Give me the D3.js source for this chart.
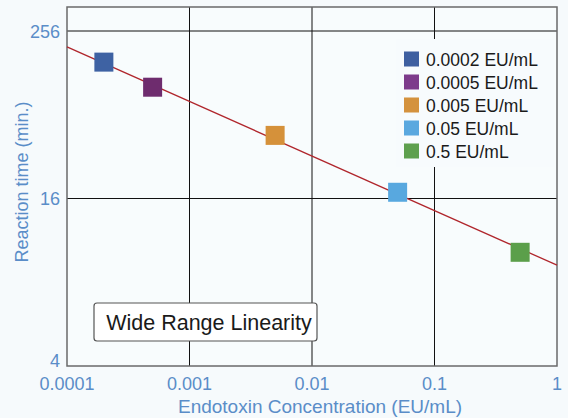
<!DOCTYPE html>
<html>
<head>
<meta charset="utf-8">
<script src="https://cdn.jsdelivr.net/npm/d3@7"></script>
<style>
  body { margin: 0; background: #f6fafc; }
  svg { display: block; font-family: "Liberation Sans", Arial, sans-serif; }
</style>
</head>
<body>
<svg id="chart" width="568" height="418"></svg>
<script>
// data
var concentrations = [0.0002, 0.0005, 0.005, 0.05, 0.5];
var reactionTimes = [131, 81, 36.6, 17.2, 9.2];
var seriesLabels = ['0.0002 EU/mL', '0.0005 EU/mL', '0.005 EU/mL', '0.05 EU/mL', '0.5 EU/mL'];
var pointColors = ['#3e62a3', '#6e2c6e', '#d5913a', '#58a8df', '#5b9f4a'];
var legendColors = ['#3e5fa0', '#7d3b8b', '#d4923e', '#5aa8df', '#5ea04e'];
var fitConc = [0.0001, 1];
var fitTime = [180, 8.2];
var xTicks = [0.0001, 0.001, 0.01, 0.1, 1];
var yTicks = [4, 16, 256];

var svg = d3.select('#chart');
var pLeft = 67, pRight = 557, pTop = 7, pBottom = 366;
var labelColor = '#5a8dc8';

var x = d3.scaleLog().domain([0.0001, 1]).range([pLeft, pRight]);
// the y axis is spaced by log of log2 (4, 16, 256 sit evenly)
var yInner = d3.scaleLog().base(2).domain([2, 8]).range([pBottom, 31]);
var yMax = yInner.invert(pTop);
yInner.domain([2, yMax]).range([pBottom, pTop]);
var y = function(v){ return yInner(Math.log2(v)); };

// plot background
svg.append('rect').attr('x', pLeft).attr('y', pTop).attr('width', pRight-pLeft).attr('height', pBottom-pTop)
  .attr('fill', '#f8fcfd');

// grid
var grid = svg.append('g');
grid.selectAll('.vg').data(xTicks.slice(1, -1)).enter().append('line')
  .attr('x1', function(d){ return x(d); }).attr('x2', function(d){ return x(d); })
  .attr('y1', pTop).attr('y2', pBottom).attr('stroke', '#111').attr('stroke-width', 1);
grid.selectAll('.hg').data(yTicks.slice(1)).enter().append('line')
  .attr('x1', pLeft).attr('x2', pRight)
  .attr('y1', function(d){ return y(d); }).attr('y2', function(d){ return y(d); })
  .attr('stroke', '#111').attr('stroke-width', 1);

// legend box covers grid
svg.append('rect').attr('x', 396).attr('y', 39).attr('width', 158).attr('height', 128).attr('fill', '#f7fbfd');

// border
svg.append('rect').attr('x', pLeft).attr('y', pTop).attr('width', pRight-pLeft).attr('height', pBottom-pTop)
  .attr('fill', 'none').attr('stroke', '#6a6a6a').attr('stroke-width', 1.5);

// fit line
svg.append('line')
  .attr('x1', x(fitConc[0])).attr('y1', y(fitTime[0]))
  .attr('x2', x(fitConc[1])).attr('y2', y(fitTime[1]))
  .attr('stroke', '#b0262c').attr('stroke-width', 1.3);

// points
var sz = 19;
svg.selectAll('.pt').data(concentrations).enter().append('rect')
  .attr('x', function(d){ return x(d) - sz/2; })
  .attr('y', function(d, i){ return y(reactionTimes[i]) - sz/2; })
  .attr('width', sz).attr('height', sz)
  .attr('fill', function(d, i){ return pointColors[i]; });

// axes tick labels
svg.selectAll('.xt').data(xTicks).enter().append('text')
  .attr('x', function(d){ return x(d); }).attr('y', 390)
  .attr('text-anchor', 'middle').attr('font-size', 18).attr('fill', labelColor)
  .text(function(d){ return String(d); });
svg.selectAll('.yt').data(yTicks).enter().append('text')
  .attr('x', 60).attr('y', function(d){ return Math.min(y(d) + 6.5, 367); })
  .attr('text-anchor', 'end').attr('font-size', 18).attr('fill', labelColor)
  .text(function(d){ return d; });

// axis titles
svg.append('text').attr('x', 320).attr('y', 413).attr('text-anchor', 'middle')
  .attr('font-size', 19).attr('fill', labelColor).text('Endotoxin Concentration (EU/mL)');
svg.append('text').attr('transform', 'translate(28,' + 182 + ') rotate(-90)').attr('text-anchor', 'middle')
  .attr('font-size', 18).attr('fill', labelColor).text('Reaction time (min.)');

// legend
var lg = svg.append('g');
seriesLabels.forEach(function(lab, i){
  var cy = 59 + i*23;
  lg.append('rect').attr('x', 404).attr('y', cy - 7.5).attr('width', 15).attr('height', 15).attr('fill', legendColors[i]);
  lg.append('text').attr('x', 426).attr('y', cy + 6.5).attr('font-size', 17.5).attr('fill', '#1a1a1a').text(lab);
});

// annotation box
svg.append('rect').attr('x', 94).attr('y', 303).attr('width', 223).attr('height', 38).attr('rx', 3)
  .attr('fill', '#ffffff').attr('stroke', '#555').attr('stroke-width', 1.2);
svg.append('text').attr('x', 209).attr('y', 330).attr('text-anchor', 'middle')
  .attr('font-size', 21.5).attr('fill', '#1a1a1a').text('Wide Range Linearity');
</script>
</body>
</html>
